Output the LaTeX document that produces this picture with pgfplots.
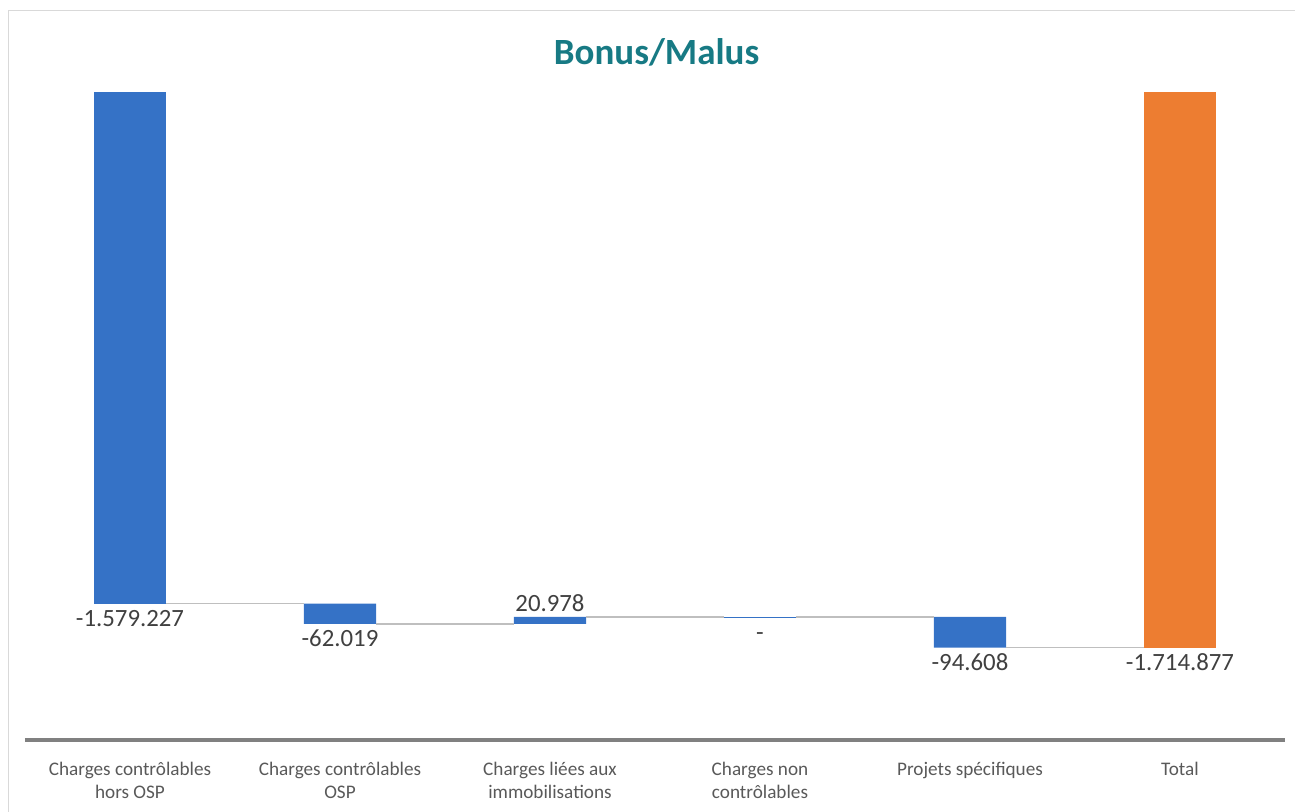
\documentclass[border=0pt]{standalone}
\usepackage{pgfplots}
\pgfplotsset{compat=1.18}
\usepackage{fontspec}
\setmainfont{Carlito}
\definecolor{barblue}{HTML}{3572C6}
\definecolor{barorange}{HTML}{ED7D31}
\definecolor{titleteal}{HTML}{177A84}
\definecolor{conn}{HTML}{BFBFBF}
\definecolor{axisgray}{HTML}{808080}
\definecolor{numtext}{HTML}{404040}
\definecolor{cattext}{HTML}{595959}
\definecolor{frame}{HTML}{D9D9D9}
\begin{document}
\begin{tikzpicture}
\path[use as bounding box] (0,0) rectangle (647.5pt,406pt);
\draw[frame, line width=0.75pt] (4.25pt,-1pt) -- (4.25pt,400.75pt) -- (648pt,400.75pt);
\node[font=\fontsize{18.5}{22}\selectfont\bfseries, text=titleteal] at (328.25pt,380pt) {Bonus/Malus};
\begin{axis}[
  at={(12.5pt,36pt)}, anchor=south west,
  width=630pt, height=324pt, scale only axis,
  xmin=-0.5, xmax=5.5, ymin=-2000000, ymax=0,
  axis line style={draw=none},
  ytick=\empty,
  xtick={0,1,2,3,4,5},
  xticklabels={{Charges contrôlables\\hors OSP},{Charges contrôlables\\OSP},{Charges liées aux\\immobilisations},{Charges non\\contrôlables},{Projets spécifiques},{Total}},
  xticklabel style={align=center, font=\fontsize{9.6}{11.5}\selectfont, text=cattext, anchor=north, inner sep=0pt, yshift=-11pt},
  major tick length=0pt,
  clip=false,
  unbounded coords=jump,
  mybar/.style={ybar, bar width=0.343, bar shift=0, draw=none},
]
% bars starting at zero
\addplot[mybar, fill=barblue] coordinates {(0,-1579227)};
\addplot[mybar, fill=barorange] coordinates {(5,-1714877)};
% floating waterfall bars (from previous cumulative level to the new one)
\addplot[fill=barblue, draw=none, mark=none] coordinates {
 (0.8285,-1579227) (1.1715,-1579227) (1.1715,-1641246) (0.8285,-1641246) (1,nan)
 (1.8285,-1641246) (2.1715,-1641246) (2.1715,-1620268) (1.8285,-1620268) (2,nan)
 (3.8285,-1620268) (4.1715,-1620268) (4.1715,-1714877) (3.8285,-1714877)};
% connectors
\addplot[conn, line width=0.75pt, sharp plot, mark=none] coordinates {
 (0.1715,-1579227) (0.8285,-1579227) (0.9,nan)
 (1.1715,-1641246) (1.8285,-1641246) (1.9,nan)
 (2.1715,-1620268) (2.8285,-1620268) (2.9,nan)
 (3.1715,-1620268) (3.8285,-1620268) (3.9,nan)
 (4.1715,-1714877) (4.8285,-1714877)};
% zero-height bar
\addplot[barblue, line width=0.75pt, sharp plot, mark=none] coordinates {(2.8285,-1622500) (3.1715,-1622500)};
\addplot[only marks, mark=none, nodes near coords, point meta=explicit symbolic,
  every node near coord/.style={anchor=north, inner sep=0pt, text height=0.64em, text depth=0pt, yshift=-5pt, font=\fontsize{12.4}{14}\selectfont, text=numtext}]
  table[meta=label] {
x y label
0 -1579227 -1.579.227
1 -1641246 -62.019
3 -1620268 -
4 -1714877 -94.608
5 -1714877 -1.714.877
};
\addplot[only marks, mark=none, nodes near coords, point meta=explicit symbolic,
  every node near coord/.style={anchor=south, inner sep=0pt, yshift=2.5pt, font=\fontsize{12.4}{14}\selectfont, text=numtext}]
  table[meta=label] {
x y label
2 -1620268 20.978
};
\draw[axisgray, line width=2pt] (rel axis cs:0,0) -- (rel axis cs:1,0);
\end{axis}
\end{tikzpicture}
\end{document}
